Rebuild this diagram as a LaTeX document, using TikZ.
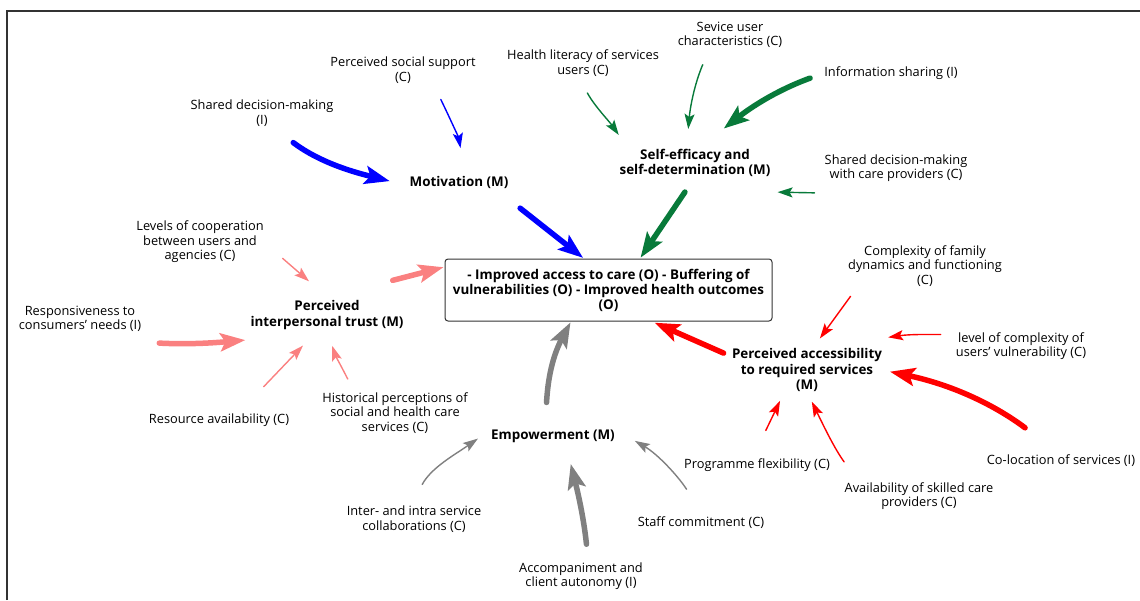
\documentclass[tikz,border=0pt]{standalone}
\usepackage{fontspec}
\setmainfont{Open Sans}
\usetikzlibrary{arrows.meta}
\definecolor{mgreen}{RGB}{8,122,58}
\definecolor{mpink}{RGB}{250,128,128}
\definecolor{mgray}{RGB}{128,128,128}
\begin{document}
\begin{tikzpicture}[x=1pt, y=-1pt,
	lbl/.style={align=center, inner sep=0pt, font=\fontsize{12.8}{14.5}\selectfont},
	mech/.style={align=center, inner sep=0pt, font=\fontsize{13.4}{15.5}\selectfont\bfseries},
	fat/.style={line width=5.5pt, line cap=round, -{Stealth[length=25pt, width=18pt, inset=5pt]}},
	slim/.style={line width=1.4pt, line cap=round, -{Stealth[length=15pt, width=10pt, inset=3pt]}}]
	\useasboundingbox (0, 0) rectangle (1140, 600);
	% Rahmen
	\draw[line width=1.5pt, black!80] (7, 600) -- (7, 11) -- (1140, 11);
	% Ergebnis
	\node[draw=black!80, line width=1pt, rounded corners=3pt, fill=white, align=center,
	inner sep=0pt, minimum width=327pt, minimum height=62pt,
	font=\fontsize{13.4}{15}\selectfont\bfseries] (out) at (608.5, 290)
	{- Improved access to care (O) - Buffering of\\vulnerabilities (O) - Improved health outcomes\\(O)};
	% Mechanismen
	\node[mech] (mot) at (459, 182) {Motivation (M)};
	\node[mech] (self) at (695, 163) {Self-efficacy and\\self-determination (M)};
	\node[mech] (trust) at (327, 315) {Perceived\\interpersonal trust (M)};
	\node[mech] (acc) at (807, 370) {Perceived accessibility\\to required services\\(M)};
	\node[mech] (emp) at (553, 436) {Empowerment (M)};
	% Kontext und Interventionen
	\node[lbl] (sdm) at (262, 113) {Shared decision-making\\(I)};
	\node[lbl] (pss) at (403, 70) {Perceived social support\\(C)};
	\node[lbl] (hlit) at (583, 63) {Health literacy of services\\users (C)};
	\node[lbl] (suc) at (730, 35) {Sevice user\\characteristics (C)};
	\node[lbl] (infs) at (891, 73) {Information sharing (I)};
	\node[lbl] (sdmc) at (896, 168) {Shared decision-making\\with care providers (C)};
	\node[lbl] (loc) at (200, 242) {Levels of cooperation\\between users and\\agencies (C)};
	\node[lbl] (resp) at (80, 319) {Responsiveness to\\consumers' needs (I)};
	\node[lbl] (res) at (219, 420) {Resource availability (C)};
	\node[lbl] (hist) at (395, 413) {Historical perceptions of\\social and health care\\services (C)};
	\node[lbl] (cfam) at (925, 266) {Complexity of family\\dynamics and functioning\\(C)};
	\node[lbl] (lcom) at (1021, 346) {level of complexity of\\users' vulnerability (C)};
	\node[lbl] (prog) at (757, 465) {Programme flexibility (C)};
	\node[lbl] (coloc) at (1061, 461) {Co-location of services (I)};
	\node[lbl] (avail) at (919, 496) {Availability of skilled care\\providers (C)};
	\node[lbl] (staff) at (701, 523) {Staff commitment (C)};
	\node[lbl] (inter) at (414, 519) {Inter- and intra service\\collaborations (C)};
	\node[lbl] (accomp) at (581, 576) {Accompaniment and\\client autonomy (I)};
	% Pfeile blau
	\draw[blue, fat, shorten <=27pt, shorten >=30pt] (sdm.-54) to[out=-37, in=166] (mot.-171);
	\draw[blue, slim, shorten <=18pt, shorten >=28pt] (pss.-24) to[out=-64, in=100] (mot.45);
	\draw[blue, fat, shorten <=32pt, shorten >=1pt] (mot.-10) -- (out.128);
	% Pfeile gruen
	\draw[mgreen, slim, shorten <=19pt, shorten >=17pt] (hlit.-110) to[out=-61, in=125] (self.168);
	\draw[mgreen, slim, shorten <=18pt, shorten >=20pt] (suc.-147) to[out=-113, in=85] (self.121);
	\draw[mgreen, fat, shorten <=15pt, shorten >=33pt] (infs.west) to[out=-160, in=38] (self.79);
	\draw[mgreen, slim] ([xshift=-10pt, yshift=-11pt]sdmc.south west) -- ([xshift=7pt, yshift=-15pt]self.south east);
	\draw[mgreen, fat, shorten <=18pt, shorten >=1pt] (self.south) -- (out.45);
	% Pfeile rosa
	\draw[mpink, slim, shorten <=25pt, shorten >=29pt] (loc.east) -- (trust.75);
	\draw[mpink, fat, shorten <=18pt, shorten >=5pt] ([yshift=-10pt]resp.south east) to[out=-3, in=185] ([yshift=-10pt]trust.south west);
	\draw[mpink, slim, shorten <=37pt, shorten >=22pt] (res.19) -- (trust.-121);
	\draw[mpink, slim, shorten <=15pt, shorten >=17pt] (hist.153) to[out=117, in=-72] (trust.south);
	\draw[mpink, fat, shorten >=1pt] ([xshift=-11pt, yshift=20pt]trust.north east) -- (out.172);
	% Pfeile rot
	\draw[red, slim, shorten <=12pt, shorten >=12pt] (cfam.-163) -- (acc.75);
	\draw[red, slim, shorten <=15pt, shorten >=6pt] (lcom.170) to[out=180, in=8] ([yshift=10pt]acc.north east);
	\draw[red, fat, shorten <=45pt, shorten >=8pt] (coloc.north) to[out=143, in=-12] (acc.east);
	\draw[red, slim, shorten <=31pt, shorten >=10pt] (prog.125) -- (acc.-136);
	\draw[red, slim, shorten <=25pt, shorten >=11pt] (avail.167) to[out=126, in=-64] (acc.south);
	\draw[red, fat, shorten <=9pt, shorten >=3pt] (acc.170) -- (out.-36);
	% Pfeile grau
	\draw[mgray, fat, shorten <=27pt, shorten >=1pt] (emp.140) to[out=87, in=-118] (out.-140);
	\draw[mgray, slim, shorten <=24pt, shorten >=16pt] (inter.103) to[out=62, in=-145] (emp.north west);
	\draw[mgray, fat, shorten <=18pt, shorten >=22pt] (accomp.62) to[out=96, in=-76] (emp.-28);
	\draw[mgray, slim, shorten <=33pt, shorten >=23pt] (staff.60) to[out=123, in=-30] (emp.north east);
\end{tikzpicture}
\end{document}
